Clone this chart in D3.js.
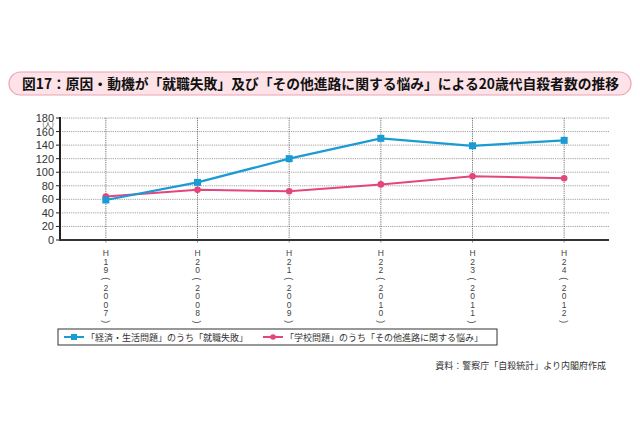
<!DOCTYPE html>
<meta charset="utf-8">
<style>
body { margin: 0; background: #fff; }
svg { font-family: "Noto Sans CJK JP", "Noto Sans", sans-serif; }
.grid line { stroke: #8a8a8a; stroke-width: 0.8; stroke-dasharray: 1.2 1; }
.vgrid line { stroke: #555; stroke-width: 0.8; stroke-dasharray: 1.2 1; }
.ylab { font-family: "Liberation Sans", sans-serif; font-size: 11px; fill: #333; text-anchor: end; }
.xlab { font-family: "Liberation Sans", sans-serif; font-size: 8.5px; fill: #444; text-anchor: middle; }
.leg { font-size: 9px; fill: #333; }
</style>
<svg width="640" height="426"></svg>
<script src="https://cdn.jsdelivr.net/npm/d3@7"></script>
<script>

var years = ["H19(2007)", "H20(2008)", "H21(2009)", "H22(2010)", "H23(2011)", "H24(2012)"];
var shushoku = [59, 85, 120, 150, 139, 147];   // 「経済・生活問題」のうち「就職失敗」
var shinro = [64, 74, 72, 82, 94, 91];         // 「学校問題」のうち「その他進路に関する悩み」
var yTicks = [0, 20, 40, 60, 80, 100, 120, 140, 160, 180];

var blue = "#1a9bd4", pink = "#e3467f";

var svg = d3.select("svg");

// title box
svg.append("rect")
    .attr("x", 9).attr("y", 72).attr("width", 622).attr("height", 23)
    .attr("rx", 11.5)
    .attr("fill", "#fde3e8").attr("stroke", "#e9a3b4").attr("stroke-width", 1.2);
svg.append("text")
    .attr("x", 22).attr("y", 88.5)
    .attr("font-size", 13.8).attr("font-weight", "bold").attr("fill", "#111")
    .attr("textLength", 597).attr("lengthAdjust", "spacingAndGlyphs")
    .text("図17：原因・動機が「就職失敗」及び「その他進路に関する悩み」による20歳代自殺者数の推移");

var x = d3.scaleBand().domain(years).range([60, 610]);
var y = d3.scaleLinear().domain([0, 180]).range([240, 118]);
var cx = function(d, i) { return x(years[i]) + x.bandwidth() / 2; };

// horizontal grid
svg.append("g").attr("class", "grid")
  .selectAll("line").data(yTicks.slice(1)).enter().append("line")
    .attr("x1", 60).attr("x2", 609)
    .attr("y1", function(d) { return y(d); }).attr("y2", function(d) { return y(d); });

// vertical grid
svg.append("g").attr("class", "vgrid")
  .selectAll("line").data(years).enter().append("line")
    .attr("x1", function(d) { return x(d) + x.bandwidth() / 2; })
    .attr("x2", function(d) { return x(d) + x.bandwidth() / 2; })
    .attr("y1", y(180)).attr("y2", y(0) + 3);

// y axis ticks + labels
svg.append("g").selectAll("line").data(yTicks).enter().append("line")
    .attr("x1", 56).attr("x2", 60)
    .attr("y1", function(d) { return y(d); }).attr("y2", function(d) { return y(d); })
    .attr("stroke", "#222").attr("stroke-width", 1);
svg.append("g").selectAll("text").data(yTicks).enter().append("text")
    .attr("class", "ylab")
    .attr("x", 54).attr("y", function(d) { return y(d) + 4; })
    .text(function(d) { return d; });
svg.append("text").attr("x", 48).attr("y", 126.5)
    .attr("font-size", 7).attr("fill", "#555").attr("text-anchor", "middle")
    .text("(人)");

// axes lines
svg.append("line").attr("x1", 60).attr("x2", 60).attr("y1", y(180) - 1).attr("y2", y(0) + 1)
    .attr("stroke", "#222").attr("stroke-width", 2);
svg.append("line").attr("x1", 59).attr("x2", 609).attr("y1", y(0)).attr("y2", y(0))
    .attr("stroke", "#333").attr("stroke-width", 2);

// vertical x labels, one character per line, parentheses turned
years.forEach(function(t) {
  var g = svg.append("g").attr("class", "xlab");
  var px = x(t) + x.bandwidth() / 2;
  t.split("").forEach(function(c, k) {
    var py = 253 + k * 8.6;
    var txt = g.append("text").attr("x", px).attr("y", py + 3.1).text(c);
    if (c === "(" || c === ")") txt.attr("transform", "rotate(90," + px + "," + py + ")");
  });
});

// lines
var line = d3.line().x(cx).y(function(d) { return y(d); });

svg.append("path").datum(shinro)
    .attr("d", line).attr("fill", "none").attr("stroke", pink).attr("stroke-width", 2);
svg.append("g").selectAll("circle").data(shinro).enter().append("circle")
    .attr("cx", cx).attr("cy", function(d) { return y(d); }).attr("r", 3.3).attr("fill", pink);

svg.append("path").datum(shushoku)
    .attr("d", line).attr("fill", "none").attr("stroke", blue).attr("stroke-width", 2.2);
svg.append("g").selectAll("rect").data(shushoku).enter().append("rect")
    .attr("x", function(d, i) { return cx(d, i) - 3.5; })
    .attr("y", function(d) { return y(d) - 3.5; })
    .attr("width", 7).attr("height", 7).attr("fill", blue);

// legend
svg.append("rect").attr("x", 58).attr("y", 329).attr("width", 439).attr("height", 16)
    .attr("fill", "#fff").attr("stroke", "#333").attr("stroke-width", 1);
var leg = [
  {x: 64, color: blue, shape: "rect", label: "「経済・生活問題」のうち「就職失敗」"},
  {x: 263, color: pink, shape: "circle", label: "「学校問題」のうち「その他進路に関する悩み」"}
];
leg.forEach(function(l) {
  svg.append("line").attr("x1", l.x).attr("x2", l.x + 20).attr("y1", 337).attr("y2", 337)
      .attr("stroke", l.color).attr("stroke-width", 2);
  if (l.shape === "rect") {
    svg.append("rect").attr("x", l.x + 7).attr("y", 334).attr("width", 6).attr("height", 6).attr("fill", l.color);
  } else {
    svg.append("circle").attr("cx", l.x + 10).attr("cy", 337).attr("r", 2.8).attr("fill", l.color);
  }
  svg.append("text").attr("class", "leg").attr("x", l.x + 22).attr("y", 340.5).text(l.label);
});

// source
svg.append("text").attr("x", 606).attr("y", 369)
    .attr("font-size", 9).attr("fill", "#333").attr("text-anchor", "end")
    .text("資料：警察庁「自殺統計」より内閣府作成");

</script>
